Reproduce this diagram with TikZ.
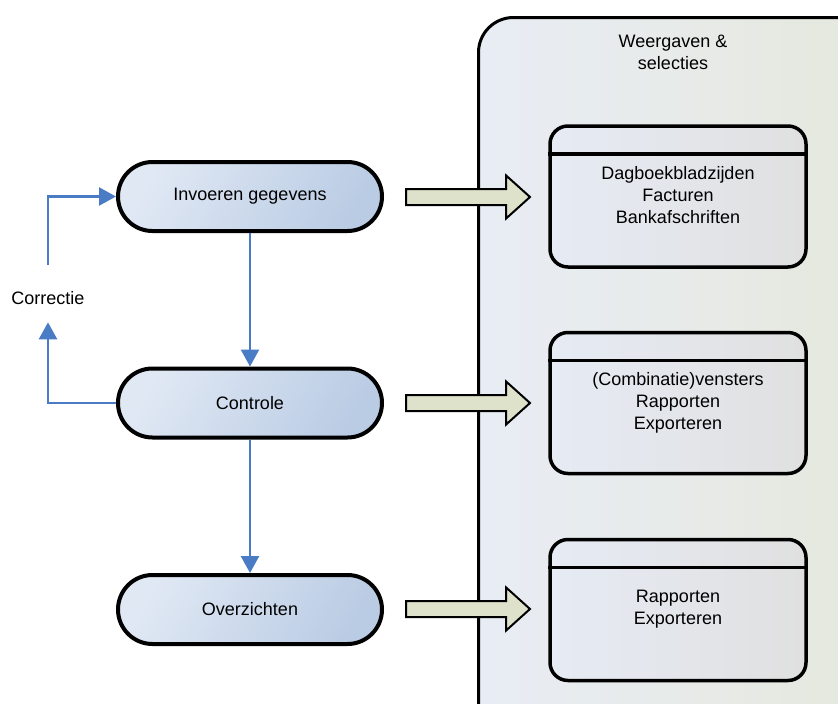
\documentclass[tikz,border=0pt]{standalone}
\usepackage{fontspec}
\setmainfont{Liberation Sans}
\usetikzlibrary{shapes.misc,shapes.arrows,arrows.meta}
\definecolor{flowblue}{HTML}{4A7BC5}
\definecolor{pillA}{HTML}{E0E8F4}
\definecolor{pillB}{HTML}{BACCE4}
\definecolor{panelA}{HTML}{E8EDF5}
\definecolor{panelB}{HTML}{E6E8DC}
\definecolor{cardA}{HTML}{E6EBF4}
\definecolor{cardB}{HTML}{E0E0E0}
\definecolor{khaki}{HTML}{DFE2CB}
\tikzset{
  x=1pt, y=-1pt,
  every node/.style={font=\fontsize{18}{22}\selectfont, text=black},
  pill/.style={rounded rectangle, draw=black, line width=4pt,
    minimum width=264pt, minimum height=69pt, inner sep=0pt,
    left color=pillA, right color=pillB, shading angle=60},
  panel/.style={draw=black, line width=3pt, rounded corners=35pt,
    left color=panelA, right color=panelB},
  card/.style={rectangle, draw=black, line width=3.5pt, rounded corners=18pt,
    minimum width=256pt, minimum height=141pt, inner sep=0pt,
    left color=cardA, right color=cardB},
  cardline/.style={draw=black, line width=3.5pt},
  cardtext/.style={align=center, inner sep=0pt},
  bigarrow/.style={single arrow, draw=black, line width=2pt, fill=khaki,
    minimum height=124pt, inner sep=7pt, single arrow head extend=13.5pt,
    single arrow tip angle=84, anchor=tail},
  flow/.style={draw=flowblue, line width=2.5pt,
    -{Triangle[width=18pt,length=17pt]}}
}
\begin{document}
\begin{tikzpicture}
\useasboundingbox (0,0) rectangle (838,704);
\clip (0,0) rectangle (838,704);

% right-hand panel with its title
\path[panel] (478.5,17.5) rectangle (880,740);
\node[align=center, inner sep=0pt] (title) at (673,52) {Weergaven \&\\selecties};

% process steps
\node[pill] (inv) at (250,196.5) {Invoeren gegevens};
\node[pill] (ctl) at (250,403) {Controle};
\node[pill] (ovz) at (250,609.5) {Overzichten};

% vertical flow
\draw[flow] (inv.south) -- (ctl.north);
\draw[flow] (ctl.south) -- (ovz.north);

% correction loop (yshift is measured upwards on the page)
\node[inner sep=0pt] (corr) at (48,298) {Correctie};
\draw[flow] (ctl.west) -| ([yshift=-17.5pt]corr.south);
\draw[flow] ([yshift=26.5pt]corr.north) |- (inv.west);

% output cards
\node[card] (c1) at (678,196.5) {};
\node[card] (c2) at (678,403) {};
\node[card] (c3) at (678,610) {};
\foreach \c in {c1,c2,c3}
  \draw[cardline] ([yshift=-29.5pt]\c.north west) -- ([yshift=-29.5pt]\c.north east);
\node[cardtext] (t1) at (678,195) {Dagboekbladzijden\\Facturen\\Bankafschriften};
\node[cardtext] (t2) at (678,403) {(Combinatie)vensters\\Rapporten\\Exporteren};
\node[cardtext] (t3) at (678,609.5) {Rapporten\\Exporteren};

% block arrows towards the cards
\node[bigarrow] (a1) at (405,197) {};
\node[bigarrow] (a2) at (405,403) {};
\node[bigarrow] (a3) at (405,609) {};
\end{tikzpicture}
\end{document}
